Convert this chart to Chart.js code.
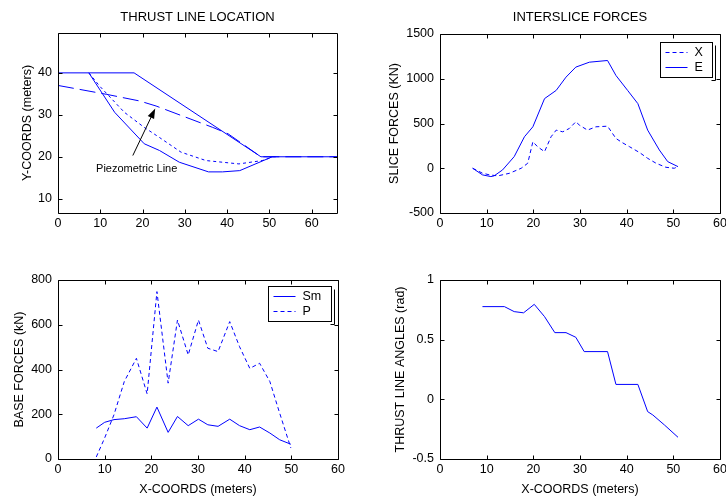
<!DOCTYPE html>
<html>
<head>
<meta charset="utf-8">
<script src="https://cdn.jsdelivr.net/npm/chart.js@4.4.0/dist/chart.umd.min.js"></script>
<style>
html, body { margin: 0; padding: 0; background: #fff; overflow: hidden; }
canvas { position: absolute; }
</style>
</head>
<body>
<canvas id="c1" width="363" height="250" style="left:0;top:0"></canvas>
<canvas id="c2" width="363" height="250" style="left:363px;top:0"></canvas>
<canvas id="c3" width="363" height="247" style="left:0;top:250px"></canvas>
<canvas id="c4" width="363" height="247" style="left:363px;top:250px"></canvas>
<script>
// thrust line location (meters)
const groundX = [0, 18, 48, 66];
const groundY = [40, 40, 20, 20];
const slipX = [7.3, 13.4, 20.4, 24, 28.7, 35.6, 38.9, 43, 50.7, 51.5];
const slipY = [40, 30.6, 23.1, 21.5, 18.7, 16.4, 16.4, 16.7, 20, 20];
const thrustX = [7.3, 9.8, 15.7, 20.4, 24, 29.1, 35, 42.8, 48.3, 50.7];
const thrustY = [40, 36.9, 30.6, 27, 24.6, 21.1, 19.1, 18.3, 19.1, 19.9];
const piezoX = [0, 11.4, 19.3, 23.2, 36.6, 40.2, 48, 66];
const piezoY = [37, 34.9, 33.3, 32.1, 27, 25.5, 20, 20];

// interslice forces (kN)
const sliceXE = [7, 9.1, 10.9, 11.6, 13.4, 15.9, 18.1, 19.9, 22.4, 24.9, 27, 29.1, 32, 35.9, 37.7, 40.2, 42.4, 44.5, 47, 48.8, 51];
const forceE = [0, -74, -93, -85, -19, 130, 352, 463, 778, 870, 1018, 1130, 1185, 1204, 1037, 870, 722, 426, 204, 74, 18];
const sliceXX = [7, 9.1, 10.6, 12.4, 14.9, 17.4, 18.8, 19.9, 20.9, 22.4, 23.8, 24.9, 26.3, 27.7, 29.1, 29.9, 31.6, 33.4, 35.9, 37.7, 39.1, 40.6, 42.8, 44.5, 46.3, 48.4, 50.2, 51];
const forceX = [0, -55, -74, -85, -56, 0, 56, 296, 241, 185, 352, 426, 407, 444, 519, 481, 426, 463, 470, 333, 285, 241, 174, 111, 56, 11, 0, 18];

// base forces (kN)
const baseX = [8.2, 10, 12, 14.2, 16.8, 19.1, 21.2, 23.6, 25.6, 27.9, 30.1, 32.1, 34.3, 36.8, 38.9, 41.1, 43.2, 45.4, 47.5, 49.9];
const baseSm = [138, 164, 176, 180, 189, 138, 232, 119, 190, 149, 178, 153, 146, 178, 149, 131, 143, 116, 86, 66];
const baseP = [9, 94, 198, 346, 450, 291, 748, 339, 621, 465, 621, 495, 480, 614, 502, 405, 428, 346, 205, 49];

// thrust line angles (rad)
const angleX = [9.1, 13.8, 15.9, 17.9, 20.2, 22.4, 24.6, 27, 29.1, 30.9, 35.9, 37.7, 42.4, 44.5, 45.6, 48.1, 51];
const angleY = [0.777, 0.777, 0.735, 0.725, 0.796, 0.693, 0.559, 0.559, 0.52, 0.40, 0.40, 0.125, 0.125, -0.103, -0.131, -0.215, -0.318];

const BLUE = '#0000ff';
const FONT = "'Liberation Sans', Arial, sans-serif";

function pts(xs, ys) {
  return xs.map((x, i) => ({ x: x, y: ys[i] }));
}

function line(label, xs, ys, dash) {
  return {
    label: label,
    data: pts(xs, ys),
    borderColor: BLUE,
    borderWidth: 1,
    borderDash: dash || [],
    pointRadius: 0,
    tension: 0,
    fill: false
  };
}

// matlab style frame with ticks pointing inward
const framePlugin = {
  id: 'frame',
  afterDraw(chart) {
    const { ctx, chartArea: a, scales } = chart;
    const L = Math.round(a.left) + 0.5, R = Math.round(a.right) + 0.5;
    const T = Math.round(a.top) + 0.5, B = Math.round(a.bottom) + 0.5;
    ctx.save();
    ctx.strokeStyle = '#000';
    ctx.lineWidth = 1;
    ctx.beginPath();
    ctx.rect(L, T, R - L, B - T);
    scales.x.ticks.forEach(t => {
      const px = Math.round(scales.x.getPixelForValue(t.value)) + 0.5;
      ctx.moveTo(px, B); ctx.lineTo(px, B - 4);
      ctx.moveTo(px, T); ctx.lineTo(px, T + 4);
    });
    scales.y.ticks.forEach(t => {
      const py = Math.round(scales.y.getPixelForValue(t.value)) + 0.5;
      ctx.moveTo(L, py); ctx.lineTo(L + 4, py);
      ctx.moveTo(R, py); ctx.lineTo(R - 4, py);
    });
    ctx.stroke();
    ctx.restore();
  }
};

// legend box inside the plot, top right
const boxLegend = {
  id: 'boxLegend',
  afterDraw(chart, args, opts) {
    if (!opts.show) return;
    const { ctx, chartArea: a } = chart;
    const sets = chart.data.datasets;
    ctx.save();
    ctx.font = '12.5px ' + FONT;
    const textW = Math.max(...sets.map(d => ctx.measureText(d.label).width));
    const w = Math.round(5 + 22 + 7 + textW + 10);
    const h = Math.round(sets.length * 14.5 + 6);
    const x = Math.round(a.right - opts.right - w) + 0.5;
    const y = Math.round(a.top + opts.top) + 0.5;
    ctx.fillStyle = '#fff';
    ctx.fillRect(x, y, w, h);
    ctx.strokeStyle = '#000';
    ctx.lineWidth = 1;
    ctx.strokeRect(x, y, w, h);
    ctx.beginPath();
    ctx.moveTo(x + w + 3, y + 3); ctx.lineTo(x + w + 3, y + h + 3);
    ctx.lineTo(x + w - 1, y + h + 3);
    ctx.stroke();
    sets.forEach((d, i) => {
      const ry = Math.round(y + 9.5 + i * 14.5) + 0.5;
      ctx.strokeStyle = d.borderColor;
      ctx.setLineDash(d.borderDash || []);
      ctx.beginPath();
      ctx.moveTo(x + 5, ry); ctx.lineTo(x + 27, ry);
      ctx.stroke();
      ctx.setLineDash([]);
      ctx.fillStyle = '#000';
      ctx.textBaseline = 'middle';
      ctx.fillText(d.label, x + 34, ry);
    });
    ctx.restore();
  }
};

// text with arrow, placed in data coordinates
const notePlugin = {
  id: 'note',
  afterDatasetsDraw(chart, args, opts) {
    if (!opts.text) return;
    const { ctx, scales } = chart;
    const x0 = scales.x.getPixelForValue(opts.from[0]), y0 = scales.y.getPixelForValue(opts.from[1]);
    const x1 = scales.x.getPixelForValue(opts.to[0]), y1 = scales.y.getPixelForValue(opts.to[1]);
    const ang = Math.atan2(y1 - y0, x1 - x0);
    ctx.save();
    ctx.strokeStyle = '#000';
    ctx.fillStyle = '#000';
    ctx.lineWidth = 1;
    ctx.beginPath();
    ctx.moveTo(x0, y0); ctx.lineTo(x1 - 6 * Math.cos(ang), y1 - 6 * Math.sin(ang));
    ctx.stroke();
    ctx.beginPath();
    ctx.moveTo(x1, y1);
    ctx.lineTo(x1 - 10 * Math.cos(ang) + 3.5 * Math.sin(ang), y1 - 10 * Math.sin(ang) - 3.5 * Math.cos(ang));
    ctx.lineTo(x1 - 10 * Math.cos(ang) - 3.5 * Math.sin(ang), y1 - 10 * Math.sin(ang) + 3.5 * Math.cos(ang));
    ctx.closePath();
    ctx.fill();
    ctx.font = '11px ' + FONT;
    ctx.textBaseline = 'middle';
    ctx.fillText(opts.text, scales.x.getPixelForValue(opts.at[0]), scales.y.getPixelForValue(opts.at[1]));
    ctx.restore();
  }
};

function axisFont() {
  return { family: FONT, size: 12.5 };
}

function makeChart(id, cfg) {
  const xScale = {
    type: 'linear',
    min: cfg.xMin, max: cfg.xMax,
    ticks: { stepSize: 10, includeBounds: false, padding: 3, color: '#000', font: axisFont(), maxRotation: 0, callback: v => String(v) },
    grid: { display: false, drawTicks: false },
    border: { display: false },
    title: { display: !!cfg.xTitle, text: cfg.xTitle || '', color: '#000', font: axisFont(), padding: { top: 0, bottom: 0 } },
    afterFit: s => { s.height = cfg.xHeight; s.paddingLeft = 0; s.paddingRight = 0; }
  };
  const yScale = {
    type: 'linear',
    min: cfg.yMin, max: cfg.yMax,
    ticks: { stepSize: cfg.yStep, includeBounds: false, padding: 6, color: '#000', font: axisFont(), callback: v => String(v) },
    grid: { display: false, drawTicks: false },
    border: { display: false },
    title: { display: true, text: cfg.yTitle, color: '#000', font: axisFont(), padding: { top: cfg.yTitlePad, bottom: 0 } },
    afterFit: s => { s.width = cfg.yWidth; s.paddingTop = 0; s.paddingBottom = 0; }
  };
  return new Chart(document.getElementById(id), {
    type: 'line',
    data: { datasets: cfg.datasets },
    options: {
      responsive: false,
      animation: false,
      devicePixelRatio: 1,
      layout: { padding: { left: 0, right: cfg.padRight, top: cfg.padTop, bottom: 0 } },
      scales: { x: xScale, y: yScale },
      plugins: {
        legend: { display: false },
        tooltip: { enabled: false },
        title: {
          display: !!cfg.title,
          text: cfg.title || '',
          fullSize: false,
          color: '#000',
          font: { family: FONT, size: 13, weight: 'normal' },
          padding: { top: 10, bottom: cfg.titleGap || 0 }
        },
        boxLegend: cfg.legend || { show: false },
        note: cfg.note || {}
      }
    },
    plugins: [framePlugin, boxLegend, notePlugin]
  });
}

makeChart('c1', {
  title: 'THRUST LINE LOCATION', titleGap: 7.4,
  xMin: 0, xMax: 66, yMin: 6.6, yMax: 49.5, yStep: 10,
  yTitle: 'Y-COORDS (meters)', yTitlePad: 20, yWidth: 58, xHeight: 37,
  padRight: 26, padTop: 0,
  datasets: [
    line('Ground', groundX, groundY),
    line('Slip surface', slipX, slipY),
    line('Thrust line', thrustX, thrustY, [3, 3]),
    line('Piezometric line', piezoX, piezoY, [16, 6])
  ],
  note: { text: 'Piezometric Line', from: [17.7, 20.3], to: [23, 31.5], at: [9, 17] }
});

makeChart('c2', {
  title: 'INTERSLICE FORCES', titleGap: 8.4,
  xMin: 0, xMax: 60, yMin: -500, yMax: 1500, yStep: 500,
  yTitle: 'SLICE FORCES (KN)', yTitlePad: 24, yWidth: 77, xHeight: 37,
  padRight: 6, padTop: 0,
  datasets: [
    line('X', sliceXX, forceX, [4, 3]),
    line('E', sliceXE, forceE)
  ],
  legend: { show: true, right: 8, top: 8 }
});

makeChart('c3', {
  xMin: 0, xMax: 60, yMin: 0, yMax: 800, yStep: 200,
  yTitle: 'BASE FORCES (kN)', yTitlePad: 12, yWidth: 58, xHeight: 38,
  xTitle: 'X-COORDS (meters)',
  padRight: 25, padTop: 30,
  datasets: [
    line('Sm', baseX, baseSm),
    line('P', baseX, baseP, [4, 3])
  ],
  legend: { show: true, right: 7, top: 6 }
});

makeChart('c4', {
  xMin: 0, xMax: 60, yMin: -0.5, yMax: 1, yStep: 0.5,
  yTitle: 'THRUST LINE ANGLES (rad)', yTitlePad: 30, yWidth: 77, xHeight: 38,
  xTitle: 'X-COORDS (meters)',
  padRight: 6, padTop: 30,
  datasets: [
    line('Angle', angleX, angleY)
  ]
});
</script>
</body>
</html>
